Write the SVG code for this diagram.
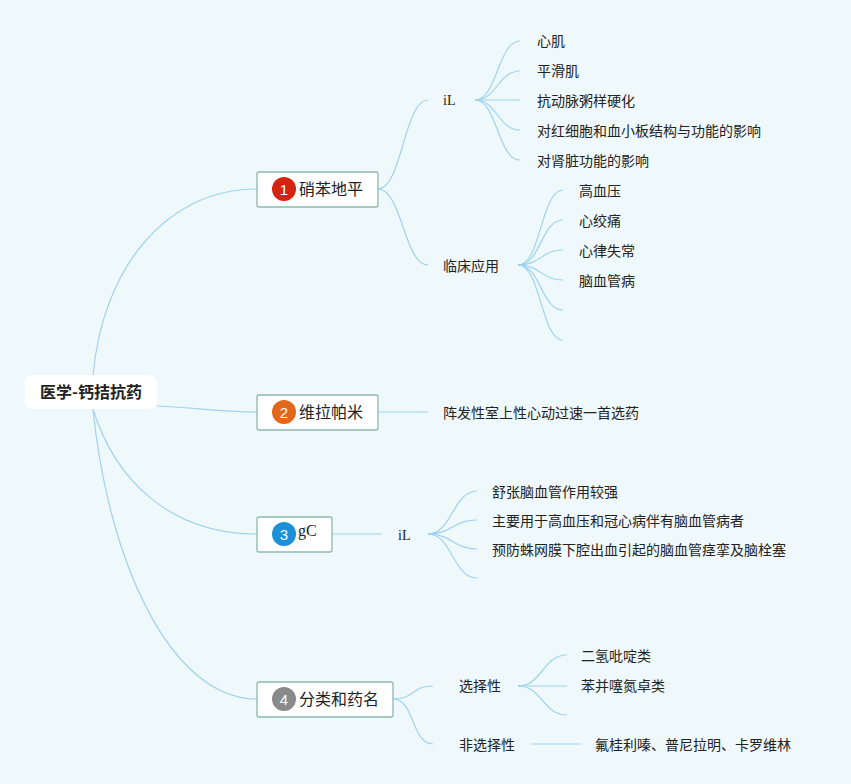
<svg xmlns="http://www.w3.org/2000/svg" width="851" height="784" viewBox="0 0 851 784">
<style>
.bg{fill:#eff8fb}
.ln{fill:none;stroke:#9fd3ef;stroke-width:1.2}
.box{fill:#ffffff;stroke:#8db8ad;stroke-width:1.3}
.t{font-family:"Noto Sans CJK SC","Noto Sans",sans-serif;fill:#222}
.leaf{font-size:14px}
.main{font-size:16px}
.serif{font-family:"Liberation Serif","Noto Serif",serif;fill:#222}
.num{font-family:"Liberation Sans",Arial,sans-serif;font-size:15px;fill:#fff;text-anchor:middle}
</style>
<rect class="bg" x="0" y="0" width="851" height="784"/>
<g id="connectors">
<path class="ln" d="M93,376 C102,270 165,189 257,189"/>
<path class="ln" d="M157,406 C200,408 220,412 257,412"/>
<path class="ln" d="M93,409 C115,480 170,534 257,534"/>
<path class="ln" d="M93,409 C108,560 170,699 257,699"/>
<path class="ln" d="M378,189 C402,189 404,100 428,100"/>
<path class="ln" d="M378,189 C402,189 404,265 428,265"/>
<path class="ln" d="M475,100 C497,100 498,41 520,41"/>
<path class="ln" d="M475,100 C497,100 498,71 520,71"/>
<path class="ln" d="M475,100 L520,100"/>
<path class="ln" d="M475,100 C497,100 498,130 520,130"/>
<path class="ln" d="M475,100 C497,100 498,160 520,160"/>
<path class="ln" d="M518,265 C541,265 541,190 563,190"/>
<path class="ln" d="M518,265 C541,265 541,220 563,220"/>
<path class="ln" d="M518,265 C541,265 541,250 563,250"/>
<path class="ln" d="M518,265 C541,265 541,280 563,280"/>
<path class="ln" d="M518,265 C541,265 541,310 563,310"/>
<path class="ln" d="M518,265 C541,265 541,340 563,340"/>
<path class="ln" d="M378,412 L428,412"/>
<path class="ln" d="M332,534 L382,534"/>
<path class="ln" d="M428,534 C452,534 453,491 477,491"/>
<path class="ln" d="M428,534 C452,534 453,520 477,520"/>
<path class="ln" d="M428,534 C452,534 453,549 477,549"/>
<path class="ln" d="M428,534 C452,534 453,578 477,578"/>
<path class="ln" d="M393,699 C415,699 411,686 433,686"/>
<path class="ln" d="M393,699 C415,699 411,744 433,744"/>
<path class="ln" d="M518,686 C542,686 543,655 567,655"/>
<path class="ln" d="M518,686 L567,686"/>
<path class="ln" d="M518,686 C542,686 543,715 567,715"/>
<path class="ln" d="M531,744 L581,744"/>
</g>
<g id="root">
<rect x="25" y="375" width="132" height="34" rx="7" fill="#ffffff"/>
<text class="t" x="91" y="398" font-size="16" font-weight="bold" text-anchor="middle">医学-钙拮抗药</text>
</g>
<g id="n1">
<rect class="box" x="257" y="172" width="121" height="35" rx="2"/>
<circle cx="284" cy="189" r="12" fill="#d4240f"/>
<text class="num" x="284" y="194.5">1</text>
<text class="t main" x="299" y="195">硝苯地平</text>
</g>
<g id="n1a"><text class="serif" x="443" y="105" font-size="14">iL</text></g>
<g id="n1a1"><text class="t leaf" x="537" y="46">心肌</text></g>
<g id="n1a2"><text class="t leaf" x="537" y="76">平滑肌</text></g>
<g id="n1a3"><text class="t leaf" x="537" y="106">抗动脉粥样硬化</text></g>
<g id="n1a4"><text class="t leaf" x="537" y="136">对红细胞和血小板结构与功能的影响</text></g>
<g id="n1a5"><text class="t leaf" x="537" y="166">对肾脏功能的影响</text></g>
<g id="n1b"><text class="t leaf" x="443" y="271">临床应用</text></g>
<g id="n1b1"><text class="t leaf" x="579" y="196">高血压</text></g>
<g id="n1b2"><text class="t leaf" x="579" y="226">心绞痛</text></g>
<g id="n1b3"><text class="t leaf" x="579" y="256">心律失常</text></g>
<g id="n1b4"><text class="t leaf" x="579" y="286">脑血管病</text></g>
<g id="n2">
<rect class="box" x="257" y="395" width="121" height="35" rx="2"/>
<circle cx="284" cy="412" r="12" fill="#e2671b"/>
<text class="num" x="284" y="417.5">2</text>
<text class="t main" x="299" y="418">维拉帕米</text>
</g>
<g id="n2a"><text class="t leaf" x="443" y="418">阵发性室上性心动过速一首选药</text></g>
<g id="n3">
<rect class="box" x="257" y="517" width="75" height="35" rx="2"/>
<circle cx="284" cy="534" r="12" fill="#1b8fd8"/>
<text class="num" x="284" y="539.5">3</text>
<text class="serif" x="298" y="536" font-size="16">gC</text>
</g>
<g id="n3a"><text class="serif" x="398" y="540" font-size="14">iL</text></g>
<g id="n3a1"><text class="t leaf" x="492" y="497">舒张脑血管作用较强</text></g>
<g id="n3a2"><text class="t leaf" x="492" y="526">主要用于高血压和冠心病伴有脑血管病者</text></g>
<g id="n3a3"><text class="t leaf" x="492" y="555">预防蛛网膜下腔出血引起的脑血管痉挛及脑栓塞</text></g>
<g id="n4">
<rect class="box" x="257" y="682" width="136" height="35" rx="2"/>
<circle cx="284" cy="699" r="12" fill="#8a8a8a"/>
<text class="num" x="284" y="704.5">4</text>
<text class="t main" x="299" y="705">分类和药名</text>
</g>
<g id="n4a"><text class="t leaf" x="459" y="691">选择性</text></g>
<g id="n4a1"><text class="t leaf" x="581" y="661">二氢吡啶类</text></g>
<g id="n4a2"><text class="t leaf" x="581" y="691">苯并噻氮卓类</text></g>
<g id="n4b"><text class="t leaf" x="459" y="750">非选择性</text></g>
<g id="n4b1"><text class="t leaf" x="595" y="750">氟桂利嗪、普尼拉明、卡罗维林</text></g>
</svg>
